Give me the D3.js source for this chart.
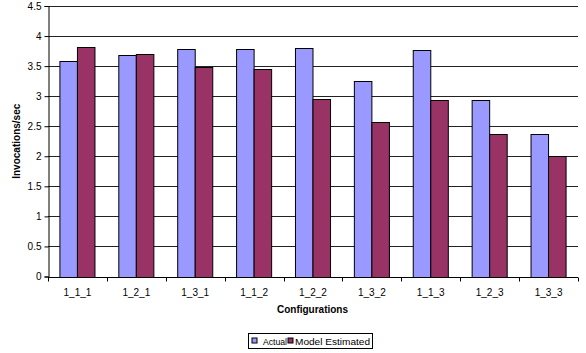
<!DOCTYPE html>
<html>
<head>
<meta charset="utf-8">
<script src="https://cdn.jsdelivr.net/npm/d3@7"></script>
<style>
  html, body { margin: 0; padding: 0; background: #fff; }
  svg { display: block; font-family: "Liberation Sans", Arial, sans-serif; }
</style>
</head>
<body>
<svg id="chart" width="586" height="353"></svg>
<script>
// Measured throughput per configuration
const configurations = ["1_1_1", "1_2_1", "1_3_1", "1_1_2", "1_2_2", "1_3_2", "1_1_3", "1_2_3", "1_3_3"];
const actual = [3.58, 3.69, 3.79, 3.79, 3.80, 3.25, 3.76, 2.94, 2.37];
const modelEstimated = [3.81, 3.70, 3.48, 3.46, 2.95, 2.57, 2.94, 2.37, 2.00];
const seriesNames = ["Actual", "Model Estimated"];
const seriesColors = ["#9999ff", "#993366"];
const yTicks = [0, 0.5, 1, 1.5, 2, 2.5, 3, 3.5, 4, 4.5];

const svg = d3.select("#chart");
const plot = { left: 48, right: 578, top: 6, bottom: 276.5 };

const x = d3.scaleBand().domain(configurations).range([plot.left, plot.right]).paddingInner(0).paddingOuter(0);
const xSub = d3.scaleBand().domain(seriesNames).range([0, x.bandwidth()]).paddingInner(0).paddingOuter(0.68);
const y = d3.scaleLinear().domain([0, 4.5]).range([plot.bottom, plot.top]);

// Horizontal gridlines
svg.append("g")
  .selectAll("line")
  .data(yTicks.filter(d => d > 0))
  .join("line")
  .attr("x1", plot.left).attr("x2", plot.right)
  .attr("y1", d => Math.round(y(d)) + 0.5).attr("y2", d => Math.round(y(d)) + 0.5)
  .attr("stroke", "#222").attr("stroke-width", 1);

// Bars
const rows = configurations.map((c, i) => ({ c, vals: [actual[i], modelEstimated[i]] }));
const groups = svg.append("g").selectAll("g")
  .data(rows).join("g")
  .attr("transform", d => `translate(${x(d.c)},0)`);

groups.selectAll("rect")
  .data(d => d.vals.map((v, k) => ({ v, k })))
  .join("rect")
  .attr("x", d => xSub(seriesNames[d.k]))
  .attr("y", d => Math.round(y(d.v)) + 0.5)
  .attr("width", xSub.bandwidth())
  .attr("height", d => Math.round(plot.bottom) - Math.round(y(d.v)))
  .attr("fill", d => seriesColors[d.k])
  .attr("stroke", "#000").attr("stroke-width", 1);

// Y axis
const yAxis = d3.axisLeft(y).tickValues(yTicks).tickSize(4).tickPadding(3)
  .tickFormat(d => String(d));
const gy = svg.append("g").attr("transform", `translate(${plot.left + 0.5},0)`).call(yAxis);
gy.select(".domain").attr("stroke", "#000");
gy.selectAll(".tick line").attr("stroke", "#000");
gy.selectAll(".tick text").attr("font-size", 10).attr("fill", "#000");

// X axis with category boundary ticks
const gx = svg.append("g").attr("transform", `translate(0,${Math.round(plot.bottom) + 0.5})`);
gx.append("line").attr("x1", plot.left).attr("x2", plot.right).attr("stroke", "#000");
gx.selectAll("line.tk")
  .data(configurations.map(c => x(c)).concat([plot.right]))
  .join("line").attr("class", "tk")
  .attr("x1", d => Math.round(d) + 0.5).attr("x2", d => Math.round(d) + 0.5)
  .attr("y1", 0).attr("y2", 4).attr("stroke", "#000");
gx.selectAll("text")
  .data(configurations).join("text")
  .attr("x", d => x(d) + x.bandwidth() / 2)
  .attr("y", 18)
  .attr("text-anchor", "middle")
  .attr("font-size", 10)
  .text(d => d);

// Axis titles
svg.append("text")
  .attr("x", (plot.left + plot.right) / 2 - 0.5).attr("y", 313)
  .attr("text-anchor", "middle").attr("font-size", 10).attr("font-weight", "bold")
  .text("Configurations");
svg.append("text")
  .attr("transform", `translate(20,${(plot.top + plot.bottom) / 2}) rotate(-90)`)
  .attr("text-anchor", "middle").attr("font-size", 10).attr("font-weight", "bold")
  .text("Invocations/sec");

// Legend
const legend = svg.append("g").attr("transform", "translate(248.5,333.5)");
legend.append("rect").attr("width", 124).attr("height", 15).attr("fill", "#fff").attr("stroke", "#000");
const items = [{ sx: 3.5, tx: 14.5, tw: 24 }, { sx: 39.5, tx: 46.5, tw: 75 }];
seriesNames.forEach((name, k) => {
  legend.append("rect").attr("x", items[k].sx).attr("y", 4.5)
    .attr("width", 5).attr("height", 5).attr("fill", seriesColors[k]).attr("stroke", "#000");
  legend.append("text").attr("x", items[k].tx).attr("y", 11.5).attr("font-size", 9.5)
    .attr("textLength", items[k].tw).attr("lengthAdjust", "spacingAndGlyphs").text(name);
});
</script>
</body>
</html>
